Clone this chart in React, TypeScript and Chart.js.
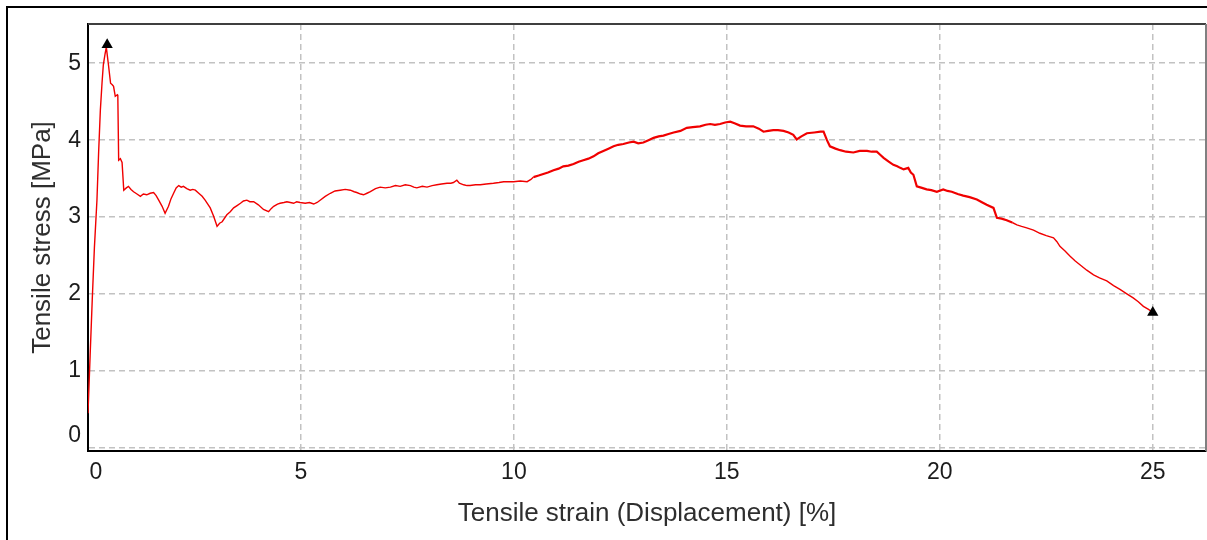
import { useEffect, useRef } from "react";
import { Chart, registerables } from "chart.js";

Chart.register(...registerables);

// Tensile test record: strain [%] against stress [MPa]
const strain = [
  0.0, 0.05, 0.1, 0.15, 0.21, 0.25, 0.29, 0.33, 0.36, 0.4, 0.43, 0.48, 0.53, 0.57, 0.6, 0.64, 0.69,
  0.7, 0.72, 0.76, 0.8, 0.84, 0.9, 0.95, 1.01, 1.07, 1.15, 1.23, 1.3, 1.38, 1.46, 1.54, 1.6, 1.66,
  1.74, 1.81, 1.89, 1.95, 2.01, 2.07, 2.13, 2.19, 2.24, 2.32, 2.4, 2.46, 2.52, 2.6, 2.68, 2.75, 2.87,
  2.95, 3.03, 3.09, 3.15, 3.26, 3.34, 3.42, 3.5, 3.58, 3.65, 3.73, 3.8, 3.89, 4.0, 4.12, 4.24, 4.3,
  4.36, 4.45, 4.51, 4.6, 4.67, 4.75, 4.83, 4.9, 4.98, 5.1, 5.2, 5.3, 5.38, 5.45, 5.57, 5.69, 5.8,
  5.92, 6.04, 6.16, 6.25, 6.31, 6.4, 6.47, 6.55, 6.63, 6.75, 6.86, 6.98, 7.1, 7.22, 7.33, 7.45,
  7.57, 7.65, 7.72, 7.85, 7.96, 8.08, 8.19, 8.3, 8.43, 8.52, 8.58, 8.66, 8.72, 8.82, 8.9, 8.97,
  9.1, 9.21, 9.35, 9.52, 9.65, 9.76, 9.88, 9.99, 10.15, 10.31, 10.4, 10.46, 10.58, 10.69, 10.8,
  10.93, 11.05, 11.16, 11.28, 11.4, 11.52, 11.63, 11.75, 11.87, 11.98, 12.1, 12.22, 12.34, 12.45,
  12.57, 12.7, 12.81, 12.92, 13.04, 13.16, 13.28, 13.4, 13.51, 13.63, 13.75, 13.91, 14.06, 14.2,
  14.37, 14.5, 14.61, 14.72, 14.84, 14.96, 15.08, 15.18, 15.31, 15.45, 15.62, 15.75, 15.86, 15.97,
  16.09, 16.2, 16.33, 16.45, 16.56, 16.64, 16.75, 16.88, 17.05, 17.2, 17.27, 17.35, 17.42, 17.55,
  17.66, 17.8, 17.97, 18.12, 18.29, 18.4, 18.52, 18.6, 18.68, 18.8, 18.91, 19.0, 19.07, 19.15,
  19.26, 19.32, 19.38, 19.46, 19.58, 19.69, 19.8, 19.93, 20.08, 20.18, 20.28, 20.42, 20.55, 20.7,
  20.87, 21.0, 21.1, 21.26, 21.34, 21.45, 21.57, 21.7, 21.81, 21.92, 22.04, 22.2, 22.35, 22.5,
  22.67, 22.75, 22.82, 22.94, 23.06, 23.18, 23.29, 23.45, 23.61, 23.75, 23.92, 24.08, 24.23, 24.4,
  24.54, 24.66, 24.78, 24.9, 24.98,
];

const stress = [
  0.45, 1.2, 1.93, 2.6, 3.22, 3.85, 4.39, 4.75, 4.98, 5.12, 5.21, 4.98, 4.74, 4.72, 4.7, 4.57, 4.59,
  4.58, 3.74, 3.76, 3.71, 3.35, 3.38, 3.4, 3.36, 3.33, 3.3, 3.27, 3.3, 3.29, 3.31, 3.32, 3.28, 3.22,
  3.14, 3.05, 3.14, 3.24, 3.31, 3.38, 3.41, 3.39, 3.4, 3.37, 3.35, 3.36, 3.35, 3.31, 3.27, 3.22, 3.12,
  3.01, 2.88, 2.92, 2.94, 3.03, 3.07, 3.12, 3.15, 3.18, 3.21, 3.22, 3.2, 3.2, 3.16, 3.1, 3.07, 3.11,
  3.14, 3.17, 3.18, 3.19, 3.2, 3.19, 3.18, 3.2, 3.19, 3.18, 3.19, 3.17, 3.19, 3.22, 3.27, 3.31, 3.34,
  3.35, 3.36, 3.35, 3.33, 3.32, 3.3, 3.29, 3.31, 3.33, 3.37, 3.39, 3.38, 3.39, 3.41, 3.4, 3.42,
  3.41, 3.39, 3.38, 3.4, 3.39, 3.41, 3.42, 3.43, 3.44, 3.44, 3.45, 3.48, 3.44, 3.42, 3.41, 3.41,
  3.42, 3.42, 3.43, 3.44, 3.45, 3.46, 3.46, 3.46, 3.47, 3.46, 3.49, 3.52, 3.54, 3.56, 3.58,
  3.61, 3.63, 3.66, 3.67, 3.69, 3.72, 3.74, 3.76, 3.79, 3.83, 3.86, 3.89, 3.92, 3.94,
  3.95, 3.97, 3.98, 3.96, 3.97, 4.0, 4.03, 4.05, 4.06, 4.08, 4.1, 4.12, 4.16, 4.17,
  4.18, 4.2, 4.21, 4.2, 4.21, 4.23, 4.24, 4.22, 4.19, 4.18, 4.18, 4.15, 4.11, 4.12,
  4.13, 4.13, 4.12, 4.1, 4.07, 4.01, 4.05, 4.09, 4.1, 4.11, 4.11, 4.0, 3.92, 3.89,
  3.87, 3.85, 3.84, 3.86, 3.86, 3.85, 3.85, 3.81, 3.77, 3.72, 3.68, 3.66, 3.64, 3.62,
  3.64, 3.58, 3.55, 3.4, 3.38, 3.36, 3.35, 3.33, 3.36, 3.34, 3.33, 3.3, 3.28, 3.26,
  3.23, 3.19, 3.16, 3.12, 2.99, 2.98, 2.96, 2.93, 2.9, 2.88, 2.86, 2.83, 2.79, 2.76,
  2.73, 2.68, 2.62, 2.56, 2.49, 2.43, 2.38, 2.31, 2.25, 2.21, 2.17, 2.11, 2.06, 2.0,
  1.95, 1.9, 1.84, 1.8, 1.77,
];

// Maximum stress and break point markers
const markStrain = [0.45, 25.0];
const markStress = [5.24, 1.76];

const xTicks = [0, 5, 10, 15, 20, 25];
const yTicks = [0, 1, 2, 3, 4, 5];

const FONT = '"Liberation Sans", Arial, sans-serif';
const GRID = "#c2c2c2";

// Pushes the "0" labels away from the axis corner and draws the top/right frame
const plotFrame = {
  id: "plotFrame",
  beforeDraw(chart: any) {
    const nudge = (scale: any, dx: number, dy: number) => {
      const items = scale.getLabelItems();
      items.forEach((it: any) => {
        if (it.label === "0" && !it._nudged) {
          it.options.translation[0] += dx;
          it.options.translation[1] += dy;
          it._nudged = true;
        }
      });
    };
    nudge(chart.scales.x, 8, 0);
    nudge(chart.scales.y, 0, -12);
  },
  beforeDatasetsDraw(chart: any) {
    const { ctx, chartArea } = chart;
    ctx.save();
    ctx.lineWidth = 2;
    ctx.strokeStyle = "#3f3f3f";
    ctx.beginPath();
    ctx.moveTo(chartArea.left, chartArea.top);
    ctx.lineTo(chartArea.right, chartArea.top);
    ctx.stroke();
    ctx.strokeStyle = "#808080";
    ctx.beginPath();
    ctx.moveTo(chartArea.right, chartArea.top);
    ctx.lineTo(chartArea.right, chartArea.bottom);
    ctx.stroke();
    ctx.restore();
  },
};

export default function App() {
  const canvasRef = useRef<HTMLCanvasElement | null>(null);

  useEffect(() => {
    const canvas = canvasRef.current;
    if (!canvas) return;
    const curve = strain.map((x, i) => ({ x, y: stress[i] }));
    const marks = markStrain.map((x, i) => ({ x, y: markStress[i] }));

    const chart = new Chart(canvas, {
      type: "scatter",
      data: {
        datasets: [
          {
            data: marks,
            showLine: false,
            pointStyle: "triangle",
            pointRadius: 6.5,
            backgroundColor: "#000",
            borderColor: "#000",
            borderWidth: 0,
          },
          {
            data: curve,
            showLine: true,
            borderColor: "#f00000",
            borderWidth: 1.5,
            pointRadius: 0,
            tension: 0,
            segment: {
              borderWidth: (ctx: any) => {
                const x = ctx.p0.parsed.x;
                return x > 10.4 && x < 21.6 ? 2.2 : 1.4;
              },
            },
          },
        ],
      },
      options: {
        responsive: false,
        animation: false,
        events: [],
        layout: { autoPadding: false, padding: { left: 0, top: 24, right: 1, bottom: 0 } },
        plugins: {
          legend: { display: false },
          tooltip: { enabled: false },
        },
        scales: {
          x: {
            type: "linear",
            min: 0,
            max: 26.25,
            afterFit: (s: any) => {
              s.height = 89;
              s.paddingLeft = 0;
              s.paddingRight = 0;
            },
            afterBuildTicks: (s: any) => {
              s.ticks = xTicks.map((v) => ({ value: v }));
            },
            grid: {
              color: (ctx: any) => (ctx.tick && ctx.tick.value === 0 ? "rgba(0,0,0,0)" : GRID),
              lineWidth: 1.5,
              drawTicks: false,
            },
            border: { display: true, color: "#000", width: 2, dash: [6, 4] },
            ticks: {
              padding: 8,
              color: "#1c1c1c",
              font: { family: FONT, size: 23 },
              callback: (v: any) => String(v),
            },
            title: {
              display: true,
              text: "Tensile strain (Displacement) [%]",
              color: "#2e2e2e",
              font: { family: FONT, size: 26 },
              padding: { top: 0, bottom: 11 },
            },
          },
          y: {
            type: "linear",
            min: -0.04,
            max: 5.51,
            afterFit: (s: any) => {
              s.width = 88;
              s.paddingTop = 0;
              s.paddingBottom = 0;
            },
            afterBuildTicks: (s: any) => {
              s.ticks = yTicks.map((v) => ({ value: v }));
            },
            grid: {
              color: GRID,
              lineWidth: 1.5,
              drawTicks: false,
            },
            border: { display: true, color: "#000", width: 2, dash: [6, 4] },
            ticks: {
              padding: 7,
              color: "#1c1c1c",
              font: { family: FONT, size: 23 },
              callback: (v: any) => String(v),
            },
            title: {
              display: true,
              text: "Tensile stress [MPa]",
              color: "#2e2e2e",
              font: { family: FONT, size: 26 },
              padding: { top: 27, bottom: 0 },
            },
          },
        },
      },
      plugins: [plotFrame],
    });

    return () => chart.destroy();
  }, []);

  return (
    <div
      style={{
        position: "fixed",
        left: 0,
        top: 0,
        width: 1207,
        height: 540,
        overflow: "hidden",
        background: "#fff",
      }}
    >
      <div
        style={{
          position: "absolute",
          left: 6,
          top: 6,
          width: 1300,
          height: 700,
          border: "2px solid #000",
          boxSizing: "border-box",
        }}
      />
      <canvas
        ref={canvasRef}
        width={1207}
        height={540}
        style={{ position: "absolute", left: 0, top: 0, width: 1207, height: 540 }}
      />
    </div>
  );
}
